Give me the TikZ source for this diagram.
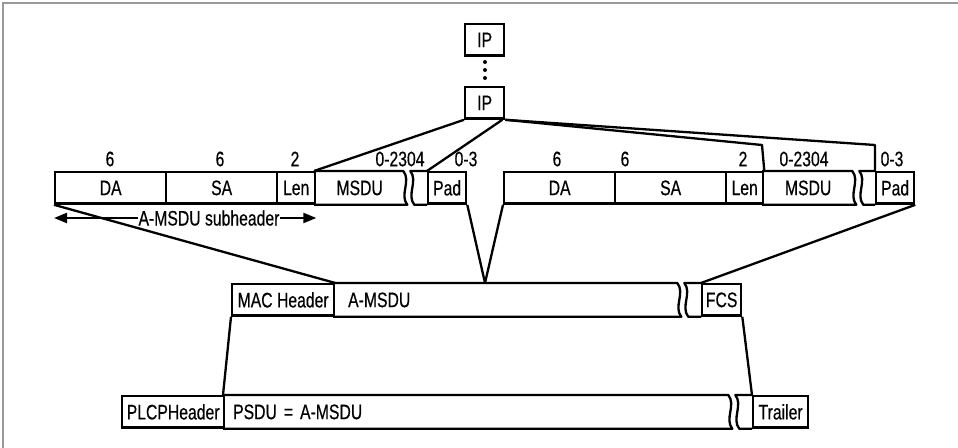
\documentclass[tikz,border=0pt]{standalone}
\usepackage{fontspec}
\setmainfont{Liberation Sans}[FakeStretch=0.75,FakeBold=0.4]
\usetikzlibrary{arrows.meta,calc}

\tikzset{
  field/.style={draw,line width=1.15pt,minimum height=15.75pt,inner sep=0pt,
    anchor=north west,font=\fontsize{10.5}{11}\selectfont},
  openfield/.style={field,draw=none},
  size/.style={inner sep=0pt,font=\fontsize{10.5}{11}\selectfont},
  link/.style={line width=1.15pt,line join=round},
}
% wavy cut at the east end of an open field, then the short piece up to the next field
\newcommand{\fieldbreak}[2]{%
  \draw[link] (#1.north west) -- ($(#1.north east)+(-1pt,0)$)
    .. controls +(4pt,-5pt) and +(-4pt,5pt) .. ($(#1.south east)+(1pt,0)$) -- (#1.south west);
  \draw[link] (#2.north west) -- ($(#1.north east)+(2.5pt,0)$)
    .. controls +(4pt,-5pt) and +(-4pt,5pt) .. ($(#1.south east)+(4.5pt,0)$) -- (#2.south west);
}

\begin{document}
\begin{tikzpicture}[x=0.5pt,y=-0.5pt,>={Triangle[length=6.5pt,width=5pt]}]
  \useasboundingbox (0,0) rectangle (958,448);
  \draw[gray!80,line width=0.8pt] (3,448) -- (3,3) -- (958,3);

  % IP packets
  \node[field,minimum width=19.5pt] (ip1) at (464,23) {IP};
  \node[field,minimum width=19.5pt] (ip2) at (464,86) {IP};
  \fill (485,62) circle (1pt) (485,70) circle (1pt) (485,78) circle (1pt);

  % A-MSDU subframes
  \node[field,minimum width=55.5pt] (da1) at (54,171) {DA};
  \node[field,minimum width=55.5pt] (sa1) at (165,171) {SA};
  \node[field,minimum width=19pt] (len1) at (276,171) {Len};
  \node[openfield,minimum width=44.5pt] (msdu1) at (314,171) {MSDU};
  \node[field,minimum width=19pt] (pad1) at (427,171) {Pad};
  \fieldbreak{msdu1}{pad1}

  \node[field,minimum width=55.5pt] (da2) at (503,171) {DA};
  \node[field,minimum width=55.5pt] (sa2) at (614,171) {SA};
  \node[field,minimum width=18.5pt] (len2) at (725,171) {Len};
  \node[openfield,minimum width=45pt] (msdu2) at (762,171) {MSDU};
  \node[field,minimum width=19pt] (pad2) at (875,171) {Pad};
  \fieldbreak{msdu2}{pad2}

  % sizes
  \node[size] (sz1) at (110,159) {6};
  \node[size] (sz2) at (220,159) {6};
  \node[size] (sz3) at (295,159) {2};
  \node[size] (sz4) at (400,159) {0-2304};
  \node[size] (sz5) at (466,159) {0-3};
  \node[size] (sz6) at (557,159) {6};
  \node[size] (sz7) at (625,159) {6};
  \node[size] (sz8) at (743,159) {2};
  \node[size] (sz9) at (804,159) {0-2304};
  \node[size] (sz10) at (892,159) {0-3};

  \node[size] (sub) at (209,218) {A-MSDU subheader};
  \draw[->,line width=1.15pt] (sub.west) -- (sub.west -| da1.west);
  \draw[->,line width=1.15pt] (sub.east) -- (sub.east -| len1.east);

  % MAC frame
  \node[field,minimum width=51pt] (mac) at (231,283) {MAC Header};
  \node[openfield,text width=158pt,inner xsep=7pt,align=left] (amsdu) at (333,283) {A-MSDU};
  \node[field,minimum width=19.5pt] (fcs) at (701,283) {FCS};
  \fieldbreak{amsdu}{fcs}

  % PHY frame
  \node[field,minimum width=51pt] (plcp) at (121,395) {PLCPHeader};
  \node[openfield,text width=243.5pt,inner xsep=4.5pt,align=left] (psdu) at (223,395) {PSDU = A-MSDU};
  \node[field,minimum width=27.5pt] (trailer) at (752,395) {Trailer};
  \fieldbreak{psdu}{trailer}

  % connectors
  \coordinate (k1) at (762,145);
  \coordinate (k2) at (875,145);
  \coordinate (v) at (485,283);
  \draw[link] (ip2.south west) -- (msdu1.north west);
  \draw[link] ([xshift=-1.5pt]ip2.south east) -- (pad1.north west);
  \draw[link] (ip2.south east) -- (k1) -- (len2.north east);
  \draw[link] (ip2.south east) -- (k2) -- (pad2.north west);
  \draw[link] (da1.south west) -- (mac.north east);
  \draw[link] (pad1.south east) -- (v) -- (da2.south west);
  \draw[link] (pad2.south east) -- (fcs.north west);
  \draw[link] (mac.south west) -- (psdu.north west);
  \draw[link] (fcs.south east) -- (trailer.north west);
\end{tikzpicture}
\end{document}
